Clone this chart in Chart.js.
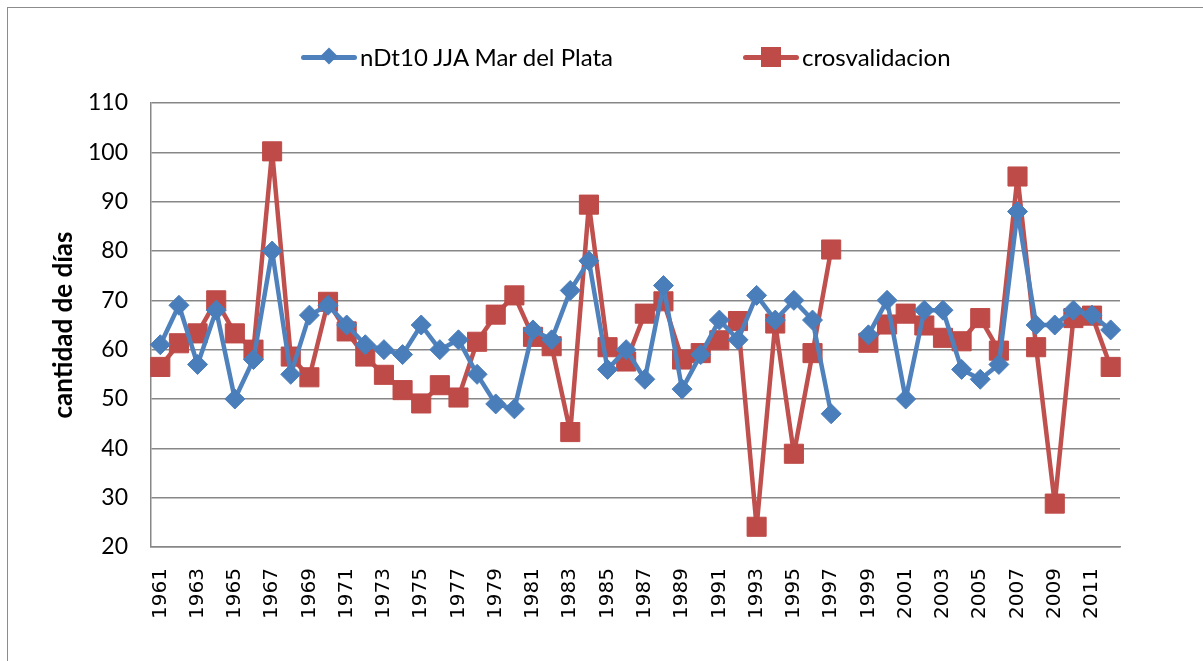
<!DOCTYPE html>
<html lang="es">
<head>
  <meta charset="UTF-8" />
  <title>nDt10 JJA Mar del Plata</title>
  <script src="https://cdn.jsdelivr.net/npm/chart.js"></script>
  <style>
    body {
      margin: 0;
      background: #fff;
      font-family: Lato, sans-serif;
      width: 1203px;
      height: 661px;
      overflow: hidden;
      position: relative;
    }
    .frame {
      position: absolute;
      left: 7px;
      top: 7px;
      width: 1300px;
      height: 700px;
      border: 1.5px solid #8c8c8c;
    }
    .wrap {
      position: absolute;
      left: 0;
      top: 0;
      width: 1203px;
      height: 661px;
    }
    .legend {
      position: absolute;
      top: 42px;
      left: 0;
      height: 30px;
      font-size: 24px;
      color: #000;
    }
    .item {
      position: absolute;
      top: 0;
      white-space: nowrap;
      line-height: 30px;
    }
    .icon {
      display: inline-block;
      position: relative;
      width: 56px;
      height: 30px;
      vertical-align: top;
      margin-right: 3px;
    }
    .icon .ln {
      position: absolute;
      left: 0;
      right: 0;
      top: 13px;
      height: 5px;
      border-radius: 2.5px;
    }
    .icon .mk {
      position: absolute;
    }
  </style>
</head>
<body>
<div class="frame"></div>
<div class="wrap"><canvas id="chart" width="1203" height="661"></canvas></div>
<div class="legend">
  <div class="item" style="left:301px">
    <span class="icon"><span class="ln" style="background:#4F81BD"></span><span class="mk" style="left:22px;top:8px;width:12px;height:12px;background:#4A7EBB;transform:rotate(45deg)"></span></span>nDt10 JJA Mar del Plata
  </div>
  <div class="item" style="left:743px">
    <span class="icon"><span class="ln" style="background:#C0504D"></span><span class="mk" style="left:18px;top:5px;width:20px;height:20px;background:#BE4B48"></span></span>crosvalidacion
  </div>
</div>

<script>
const years = [
  '1961','1962','1963','1964','1965','1966','1967','1968','1969','1970',
  '1971','1972','1973','1974','1975','1976','1977','1978','1979','1980',
  '1981','1982','1983','1984','1985','1986','1987','1988','1989','1990',
  '1991','1992','1993','1994','1995','1996','1997','1998','1999','2000',
  '2001','2002','2003','2004','2005','2006','2007','2008','2009','2010',
  '2011','2012'
];

// nDt10 JJA Mar del Plata (1998 sin dato)
const observado = [
  61, 69, 57, 68, 50, 58, 80, 55, 67, 69,
  65, 61, 60, 59, 65, 60, 62, 55, 49, 48,
  64, 62, 72, 78, 56, 60, 54, 73, 52, 59,
  66, 62, 71, 66, 70, 66, 47, null, 63, 70,
  50, 68, 68, 56, 54, 57, 88, 65, 65, 68,
  67, 64
];

// crosvalidacion
const crosvalidacion = [
  56.5, 61.3, 63.3, 70, 63.3, 60, 100.2, 58.6, 54.4, 69.7,
  63.7, 58.6, 54.9, 51.8, 49.1, 52.8, 50.3, 61.6, 67.1, 71,
  62.6, 60.7, 43.3, 89.4, 60.5, 57.6, 67.3, 69.8, 58, 59.3,
  61.9, 65.8, 24.1, 65.3, 38.9, 59.3, 80.3, null, 61.4, 65.1,
  67.3, 64.9, 62.4, 61.7, 66.4, 59.8, 95.1, 60.5, 28.8, 66.4,
  66.9, 56.5
];

const yMin = 20, yMax = 110, yStep = 10;

const gridColor = '#878787';

new Chart(document.getElementById('chart'), {
  type: 'line',
  data: {
    labels: years,
    datasets: [
      {
        label: 'nDt10 JJA Mar del Plata',
        data: observado,
        borderColor: '#4F81BD',
        backgroundColor: '#4A7EBB',
        pointBorderColor: '#4A7EBB',
        borderWidth: 4.5,
        borderJoinStyle: 'round',
        pointStyle: 'rectRot',
        pointRadius: 10,
        pointBorderWidth: 1,
        spanGaps: false,
        tension: 0
      },
      {
        label: 'crosvalidacion',
        data: crosvalidacion,
        borderColor: '#C0504D',
        backgroundColor: '#BE4B48',
        pointBorderColor: '#BE4B48',
        borderWidth: 4.5,
        borderJoinStyle: 'round',
        pointStyle: 'rect',
        pointRadius: 13.5,
        pointBorderWidth: 1,
        spanGaps: false,
        tension: 0
      }
    ]
  },
  options: {
    responsive: false,
    animation: false,
    events: [],
    layout: { padding: { left: 44, right: 83, top: 103, bottom: 0 } },
    plugins: {
      legend: { display: false },
      tooltip: { enabled: false }
    },
    scales: {
      x: {
        offset: true,
        grid: { display: false, offset: true },
        border: { display: true, color: gridColor, width: 1.5 },
        ticks: {
          autoSkip: false,
          maxRotation: 90,
          minRotation: 90,
          padding: 13,
          color: '#000',
          font: { family: 'DejaVu Sans', size: 20 },
          callback: function (val, i) {
            return i % 2 === 0 ? this.getLabelForValue(val) : '';
          }
        },
        afterFit: s => { s.height = 114; }
      },
      y: {
        min: yMin,
        max: yMax,
        grid: { color: gridColor, lineWidth: 1.5, drawTicks: false },
        border: { display: true, color: gridColor, width: 1.5 },
        ticks: {
          stepSize: yStep,
          padding: 23,
          color: '#000',
          font: { family: 'Lato', size: 23 }
        },
        title: {
          display: true,
          text: 'cantidad de días',
          color: '#000',
          font: { family: 'Lato', size: 26, weight: 'bold' },
          padding: { top: 4, bottom: 4 }
        },
        afterFit: s => { s.width = 107; }
      }
    }
  }
});
</script>
</body>
</html>
